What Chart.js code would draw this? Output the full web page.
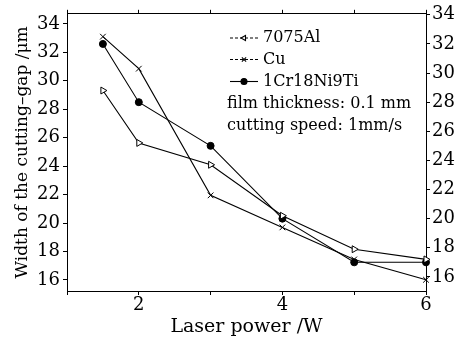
<!DOCTYPE html>
<html>
<head>
<meta charset="utf-8">
<script src="https://cdn.jsdelivr.net/npm/chart.js@4/dist/chart.umd.min.js"></script>
<style>
  html, body { margin: 0; padding: 0; background: #fff; }
</style>
</head>
<body>
<canvas id="gapChart" width="459" height="344"></canvas>
<script>
// laser power (W) on the x axis
const powers = [1.5, 2, 3, 4, 5, 6];

// cutting-gap width (um) for each material
const al7075 = [28.8, 25.2, 23.7, 20.2, 17.9, 17.2];
const copper = [32.5, 30.3, 21.6, 19.4, 17.2, 15.8];
const steel = [32.0, 28.0, 25.0, 20.0, 17.0, 17.0];

const seriesNames = ['7075Al', 'Cu', '1Cr18Ni9Ti'];
const notes = ['film thickness: 0.1 mm', 'cutting speed: 1mm/s'];

const xTicks = [1, 2, 3, 4, 5, 6];
const yTicks = [16, 17, 18, 19, 20, 21, 22, 23, 24, 25, 26, 27, 28, 29, 30, 31, 32, 33, 34];

const serif = '"DejaVu Serif", "Liberation Serif", serif';

function pts(vals) {
    return powers.map((p, i) => ({ x: p, y: vals[i] }));
}

function evenOnly(v) {
    return v % 2 === 0 ? String(v) : '';
}

// legend drawn inside the plot, like the original figure
const innerLegend = {
    id: 'innerLegend',
    afterDatasetsDraw(chart) {
        const ctx = chart.ctx;
        const rows = [38, 59.5, 81.5];
        ctx.save();
        chart.data.datasets.forEach((ds, i) => {
            const y = rows[i];
            ctx.strokeStyle = '#000';
            ctx.lineWidth = 1.1;
            ctx.setLineDash(i < 2 ? [3, 2] : []);
            ctx.beginPath();
            ctx.moveTo(230, y);
            ctx.lineTo(258, y);
            ctx.stroke();
            ctx.setLineDash([]);
            ctx.fillStyle = ds.pointBackgroundColor;
            Chart.helpers.drawPoint(ctx, {
                pointStyle: ds.pointStyle,
                rotation: i === 0 ? -90 : ds.pointRotation,
                radius: 3,
                borderWidth: 1
            }, 244, y);
            ctx.fillStyle = '#000';
            ctx.font = '16px ' + serif;
            ctx.textBaseline = 'middle';
            ctx.textAlign = 'left';
            ctx.fillText(ds.label, 263, y);
        });
        notes.forEach((t, i) => {
            ctx.fillText(t, 227, 103.5 + i * 22.5);
        });
        ctx.restore();
    }
};

const ctx = document.getElementById('gapChart').getContext('2d');
const gapChart = new Chart(ctx, {
    type: 'line',
    data: {
        datasets: [{
            label: seriesNames[0],
            data: pts(al7075),
            borderColor: '#000',
            borderWidth: 1.1,
            pointStyle: 'triangle',
            pointRotation: 90,
            pointRadius: 4,
            pointBorderWidth: 1,
            pointBorderColor: '#000',
            pointBackgroundColor: '#fff',
            yAxisID: 'y2',
            clip: false
        }, {
            label: seriesNames[1],
            data: pts(copper),
            borderColor: '#000',
            borderWidth: 1.1,
            pointStyle: 'crossRot',
            pointRotation: 0,
            pointRadius: 4,
            pointBorderWidth: 1,
            pointBorderColor: '#000',
            pointBackgroundColor: '#000',
            yAxisID: 'y2',
            clip: false
        }, {
            label: seriesNames[2],
            data: pts(steel),
            borderColor: '#000',
            borderWidth: 1.1,
            pointStyle: 'circle',
            pointRotation: 0,
            pointRadius: 3.5,
            pointBorderWidth: 1,
            pointBorderColor: '#000',
            pointBackgroundColor: '#000',
            yAxisID: 'y2',
            clip: false
        }]
    },
    options: {
        responsive: false,
        animation: false,
        devicePixelRatio: 1,
        layout: { padding: 0 },
        plugins: {
            legend: { display: false },
            tooltip: { enabled: false }
        },
        scales: {
            x: {
                type: 'linear',
                position: 'bottom',
                min: 1,
                max: 6,
                afterBuildTicks: s => { s.ticks = xTicks.map(v => ({ value: v })); },
                afterFit: s => { s.height = 53; },
                border: { color: '#000', width: 1 },
                grid: { drawOnChartArea: false, color: '#000', tickLength: 4 },
                ticks: { color: '#000', font: { family: serif, size: 18 }, padding: 0, maxRotation: 0, callback: evenOnly },
                title: { display: true, text: 'Laser power /W', color: '#000', font: { family: serif, size: 19 }, padding: { top: 0, bottom: 6 } }
            },
            x2: {
                type: 'linear',
                position: 'top',
                min: 1,
                max: 6,
                afterBuildTicks: s => { s.ticks = xTicks.map(v => ({ value: v })); },
                afterFit: s => { s.height = 13; },
                border: { color: '#000', width: 1 },
                grid: { drawOnChartArea: false, color: '#000', tickLength: 4 },
                ticks: { display: false }
            },
            y: {
                type: 'linear',
                position: 'left',
                min: 15.22,
                max: 34.71,
                afterBuildTicks: s => { s.ticks = yTicks.map(v => ({ value: v })); },
                afterFit: s => { s.width = 67; },
                border: { color: '#000', width: 1 },
                grid: { drawOnChartArea: false, color: '#000', tickLength: 4 },
                ticks: { color: '#000', font: { family: serif, size: 18 }, padding: 3, callback: evenOnly },
                title: { display: true, text: 'Width of the cutting–gap /μm', color: '#000', font: { family: serif, size: 17 }, padding: { top: 12, bottom: 0 } }
            },
            y2: {
                type: 'linear',
                position: 'right',
                min: 15.03,
                max: 34.07,
                afterBuildTicks: s => { s.ticks = yTicks.map(v => ({ value: v })); },
                afterFit: s => { s.width = 33; },
                border: { color: '#000', width: 1 },
                grid: { drawOnChartArea: false, color: '#000', tickLength: 4 },
                ticks: { color: '#000', font: { family: serif, size: 18 }, padding: 2, callback: evenOnly }
            }
        }
    },
    plugins: [innerLegend]
});
</script>
</body>
</html>
